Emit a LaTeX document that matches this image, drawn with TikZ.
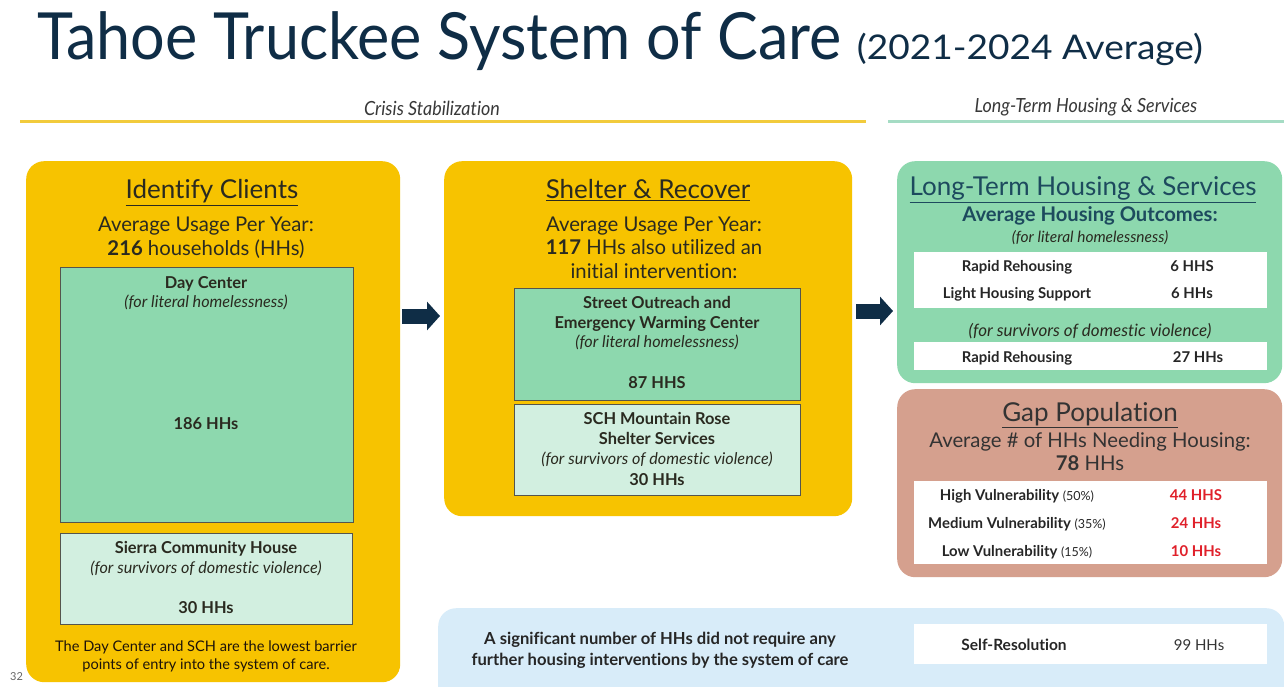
\documentclass[tikz,border=0pt]{standalone}
\usepackage{fontspec}
\setmainfont{Lato}[Ligatures=NoCommon]
\usetikzlibrary{arrows.meta}
\definecolor{navy}{HTML}{0F2D46}
\definecolor{gold}{HTML}{F7C300}
\definecolor{mint}{HTML}{8DD8AE}
\definecolor{palemint}{HTML}{D2EFE0}
\definecolor{salmon}{HTML}{D5A08E}
\definecolor{paleblue}{HTML}{D8ECF9}
\definecolor{goldline}{HTML}{F2CB3C}
\definecolor{tealline}{HTML}{A5DCC4}
\definecolor{darktxt}{HTML}{2A2A20}
\definecolor{tealtxt}{HTML}{1D4A5E}
\definecolor{redtxt}{HTML}{E0202A}
\newcommand{\fs}[1]{\fontsize{#1}{#1}\selectfont}
\begin{document}
\begin{tikzpicture}[x=1pt,y=-1pt,
  panel/.style={rounded corners=18pt, draw=none, anchor=north west, inner sep=0pt},
  inbox/.style={draw=darktxt!80, line width=0.9pt, anchor=north west, inner sep=0pt},
  wbox/.style={fill=white, draw=none, anchor=north west, inner sep=0pt},
  txt/.style={anchor=base, inner sep=0pt, text=darktxt},
  head/.style={txt, font=\fs{26}},
  sub/.style={txt, font=\fs{20.3}},
  bx/.style={txt, font=\bfseries\fs{16.4}},
  it/.style={txt, font=\itshape\fs{16.2}},
  tb/.style={txt, font=\bfseries\fs{14.9}, text=black!85},
  sect/.style={txt, font=\itshape\fs{19.5}, text=black!78},
  navarrow/.style={draw=navy, line width=15pt, -{Triangle[length=13pt,width=28pt]}}
]
\useasboundingbox[fill=white] (0,0) rectangle (1284,687);
% title
\node[anchor=base west, inner sep=0pt, text=navy] (title) at (37,60)
  {\scalebox{0.94}[1]{\fs{65}Tahoe Truckee System of Care}\hspace{15pt}\scalebox{1.09}[1]{\fs{34}(2021-2024 Average)}};
% section headers
\node[sect] (cs) at (432,116) {\scalebox{0.92}[1]{Crisis Stabilization}};
\node[sect] (lt) at (1086,113) {\scalebox{0.92}[1]{Long-Term Housing \& Services}};
\coordinate (l1a) at (20,122); \coordinate (l1b) at (866,122);
\coordinate (l2a) at (888,122); \coordinate (l2b) at (1284,122);
\draw[goldline, line width=3pt] (l1a) -- (l1b);
\draw[tealline, line width=3pt] (l2a) -- (l2b);

% ---------- Identify Clients ----------
\node[panel, fill=gold, minimum width=374pt, minimum height=521pt] (idc) at (26,161) {};
\node[head] (idch) at (212,199) {\underline{Identify Clients}};
\node[sub] (idc1) at (206,231) {Average Usage Per Year:};
\node[sub] (idc2) at (206,255) {\textbf{216} households (HHs)};
\node[inbox, fill=mint, minimum width=293pt, minimum height=255pt] (dc) at (60,267) {};
\node[bx] (dc1) at (206,288) {Day Center};
\node[it] (dc2) at (206,307) {(for literal homelessness)};
\node[bx] (dc3) at (206,429) {186 HHs};
\node[inbox, fill=palemint, minimum width=292pt, minimum height=91pt] (sch) at (60,533) {};
\node[bx] (sch1) at (206,553) {Sierra Community House};
\node[it] (sch2) at (206,573) {(for survivors of domestic violence)};
\node[bx] (sch3) at (206,613) {30 HHs};
\node[txt, font=\fs{14.6}, text=black!85!brown] (ft1) at (206,651) {The Day Center and SCH are the lowest barrier};
\node[txt, font=\fs{14.6}, text=black!85!brown] (ft2) at (206,669) {points of entry into the system of care.};
\node[anchor=base west, inner sep=0pt, font=\fs{11}, text=black!60] (pg) at (10,680) {32};

% ---------- Shelter & Recover ----------
\node[panel, fill=gold, minimum width=408pt, minimum height=355pt] (sr) at (444,161) {};
\node[head] (srh) at (648,199) {\underline{Shelter \& Recover}};
\node[sub] (sr1) at (654,231) {Average Usage Per Year:};
\node[sub] (sr2) at (654,254) {\textbf{117} HHs also utilized an};
\node[sub] (sr3) at (654,278) {initial intervention:};
\node[inbox, fill=mint, minimum width=286pt, minimum height=112pt] (so) at (514,288) {};
\node[bx] (so1) at (657,308) {Street Outreach and};
\node[bx] (so2) at (657,328) {Emergency Warming Center};
\node[it] (so3) at (657,347) {(for literal homelessness)};
\node[bx] (so4) at (657,388) {87 HHS};
\node[inbox, fill=palemint, minimum width=286pt, minimum height=91pt] (mr) at (514,404) {};
\node[bx] (mr1) at (657,424) {SCH Mountain Rose};
\node[bx] (mr2) at (657,444) {Shelter Services};
\node[it] (mr3) at (657,464) {(for survivors of domestic violence)};
\node[bx] (mr4) at (657,485) {30 HHs};

% ---------- Long-term ----------
\node[panel, fill=mint, minimum width=385pt, minimum height=222pt] (lth) at (897,161) {};
\node[txt, font=\fs{26}, text=tealtxt] (lthh) at (1083,196) {\underline{Long-Term Housing \& Services}};
\node[txt, font=\bfseries\fs{20.2}, text=tealtxt] (lth1) at (1090,221) {Average Housing Outcomes:};
\node[it, font=\itshape\fs{15.5}] (lth2) at (1090,242) {(for literal homelessness)};
\node[wbox, minimum width=353pt, minimum height=56pt] (t1) at (914,252) {};
\node[tb] (t1a) at (1017,271) {Rapid Rehousing};
\node[tb] (t1b) at (1192,271) {6 HHS};
\node[tb] (t1c) at (1017,298) {Light Housing Support};
\node[tb] (t1d) at (1192,298) {6 HHs};
\node[it, font=\itshape\fs{17}] (lth3) at (1090,336) {(for survivors of domestic violence)};
\node[wbox, minimum width=353pt, minimum height=28pt] (t2) at (914,342) {};
\node[tb] (t2a) at (1017,362) {Rapid Rehousing};
\node[tb] (t2b) at (1198,362) {27 HHs};

% ---------- Gap population ----------
\node[panel, fill=salmon, minimum width=385pt, minimum height=188pt] (gap) at (897,389) {};
\node[head, text=black!80] (gaph) at (1090,421) {\underline{Gap Population}};
\node[sub, text=black!80] (gap1) at (1090,447) {Average \# of HHs Needing Housing:};
\node[sub, text=black!80] (gap2) at (1090,470) {\textbf{78} HHs};
\node[wbox, minimum width=353pt, minimum height=83pt] (t3) at (914,481) {};
\node[tb] (t3a) at (1017,500) {High Vulnerability {\mdseries\fs{12.5}(50\%)}};
\node[tb, text=redtxt] (t3b) at (1196,500) {44 HHS};
\node[tb] (t3c) at (1017,528) {Medium Vulnerability {\mdseries\fs{12.5}(35\%)}};
\node[tb, text=redtxt] (t3d) at (1196,528) {24 HHs};
\node[tb] (t3e) at (1017,556) {Low Vulnerability {\mdseries\fs{12.5}(15\%)}};
\node[tb, text=redtxt] (t3f) at (1196,556) {10 HHs};

% ---------- Self resolution ----------
\node[panel, fill=paleblue, minimum width=846pt, minimum height=100pt] (blue) at (438,608) {};
\node[tb, font=\bfseries\fs{16.6}] (bl1) at (660,644) {A significant number of HHs did not require any};
\node[tb, font=\bfseries\fs{16.6}] (bl2) at (660,665) {further housing interventions by the system of care};
\node[wbox, minimum width=353pt, minimum height=40pt] (t4) at (914,624) {};
\node[tb, font=\bfseries\fs{15.5}] (t4a) at (1014,650) {Self-Resolution};
\node[txt, font=\fs{15}, text=black!80] (t4b) at (1199,650) {99 HHs};

% ---------- arrows ----------
\coordinate (ya) at (0,316);
\coordinate (yb) at (0,311);
\draw[navarrow, shorten <=2pt, shorten >=4pt] (idc.east |- ya) -- (sr.west |- ya);
\draw[navarrow, shorten <=4pt, shorten >=4pt] (sr.east |- yb) -- (lth.west |- yb);
\end{tikzpicture}
\end{document}
